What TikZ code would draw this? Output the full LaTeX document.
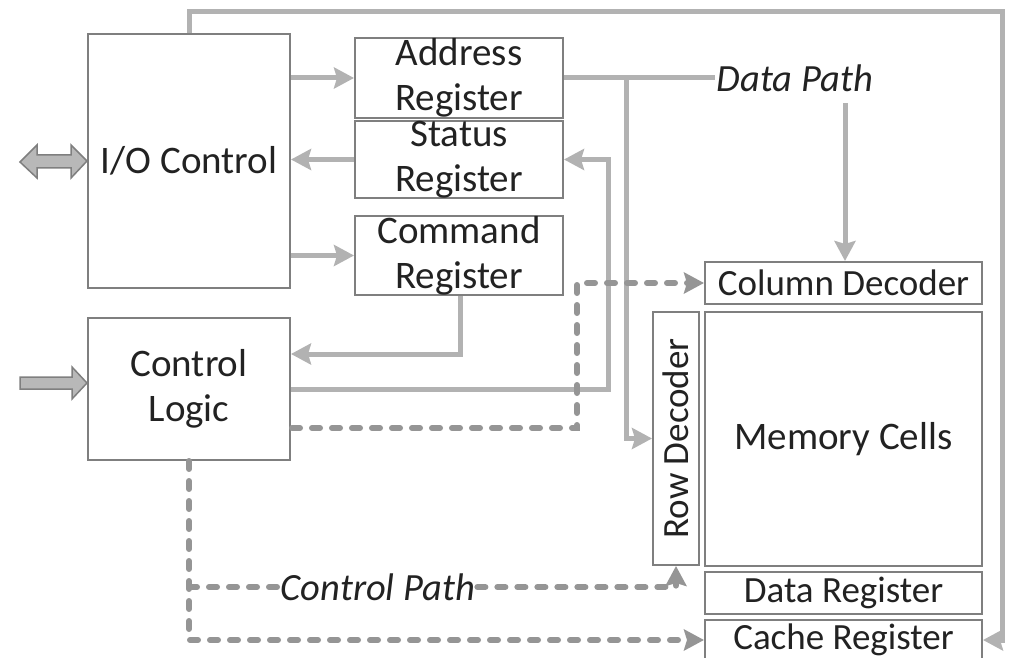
\documentclass[tikz,border=0pt]{standalone}
\usepackage{fontspec}
\setmainfont{Carlito}
\usetikzlibrary{arrows.meta}
\definecolor{boxc}{HTML}{7F7F7F}
\definecolor{linec}{HTML}{B2B2B2}
\definecolor{dashc}{HTML}{959595}
\definecolor{txt}{HTML}{222222}
\definecolor{blockfill}{HTML}{B8B8B8}
\begin{document}
\begin{tikzpicture}[x=1pt,y=-1pt,
 blk/.style={draw=boxc, line width=2pt, text=txt, inner sep=0pt, font=\fontsize{39}{45}\selectfont, align=center},
 small/.style={font=\fontsize{37}{42}\selectfont},
 tipA/.style={-{Stealth[length=20pt,width=21pt,inset=3pt]}},
 conn/.style={draw=linec, line width=5pt, tipA},
 plainline/.style={draw=linec, line width=5pt},
 dconn/.style={draw=dashc, line width=6pt, dash pattern=on 8pt off 12pt, line cap=round},
 lbl/.style={text=txt, font=\fontsize{38.5}{44}\selectfont\itshape, inner sep=2pt},
 blockarrow/.style={draw=boxc, fill=blockfill, line width=1.5pt, line join=miter}]
\useasboundingbox (0,0) rectangle (1013,658);

% boxes
\node[blk, minimum width=202pt, minimum height=254pt] (io) at (189,161) {I/O Control};
\node[blk, minimum width=208pt, minimum height=80pt] (addr) at (459,78) {Address\\Register};
\node[blk, minimum width=208pt, minimum height=75pt] (status) at (459,159.5) {Status\\Register};
\node[blk, minimum width=208pt, minimum height=79pt] (cmd) at (459,255.5) {Command\\Register};
\node[blk, minimum width=202pt, minimum height=142pt] (ctrl) at (189,389) {Control\\Logic};
\node[blk, small, minimum width=277pt, minimum height=42pt] (coldec) at (843.5,283) {Column Decoder};
\node[blk, minimum width=277pt, minimum height=254pt] (mem) at (843.5,439) {Memory Cells};
\node[blk, small, minimum width=46pt, minimum height=253pt] (rowdec) at (676,438.5) {\rotatebox{90}{Row Decoder}};
\node[blk, small, minimum width=277pt, minimum height=42pt] (datareg) at (843.5,593) {Data Register};
\node[blk, small, minimum width=277pt, minimum height=40pt] (cache) at (843.5,640) {Cache Register};

% labels
\node[lbl] (dp) at (795,78) {Data Path};
\node[lbl] (cp) at (378,587) {Control Path};

% coordinates
\coordinate (tr) at (1002,12);
\coordinate (dpd) at (845,103);
\coordinate (br) at (626,78);
\coordinate (c1) at (460,354);
\coordinate (d1) at (292,428);
\coordinate (d2) at (577,428);

% external block arrows
\draw[blockarrow] (20,162) -- (37,145) -- (37,155) -- (71,155) -- (71,145) -- (io.west) -- (71,178) -- (71,168) -- (37,168) -- (37,178) -- cycle;
\draw[blockarrow] (20,377) -- (72,377) -- (72,367) -- (ctrl.west |- 0,383) -- (72,399) -- (72,389) -- (20,389) -- cycle;

% solid connectors
\draw[conn] (io.north) |- (tr) |- (cache.east);
\draw[conn] (io.east |- addr.west) -- (addr.west);
\draw[conn] (status.west) -- (io.east |- status.west);
\draw[conn] (io.east |- cmd.west) -- (cmd.west);
\draw[plainline] (addr.east) -- (dp.west);
\draw[conn] (dpd) -- (coldec.north -| dpd);
\draw[conn] (br) |- (rowdec.west);
\draw[conn] (cmd.south -| c1) -- (c1) -- (ctrl.east |- c1);
\draw[conn] (ctrl.east) -| ([xshift=44pt]status.east) -- (status.east);

% dashed connectors
\draw[dconn, tipA] (d1) -- (d2) |- (coldec.west);
\draw[dconn, tipA] (ctrl.south) |- (cache.west);
\draw[dconn] (ctrl.south |- cp.west) -- (cp.west);
\draw[dconn, tipA] (cp.east) -| (rowdec.south);
\end{tikzpicture}
\end{document}
